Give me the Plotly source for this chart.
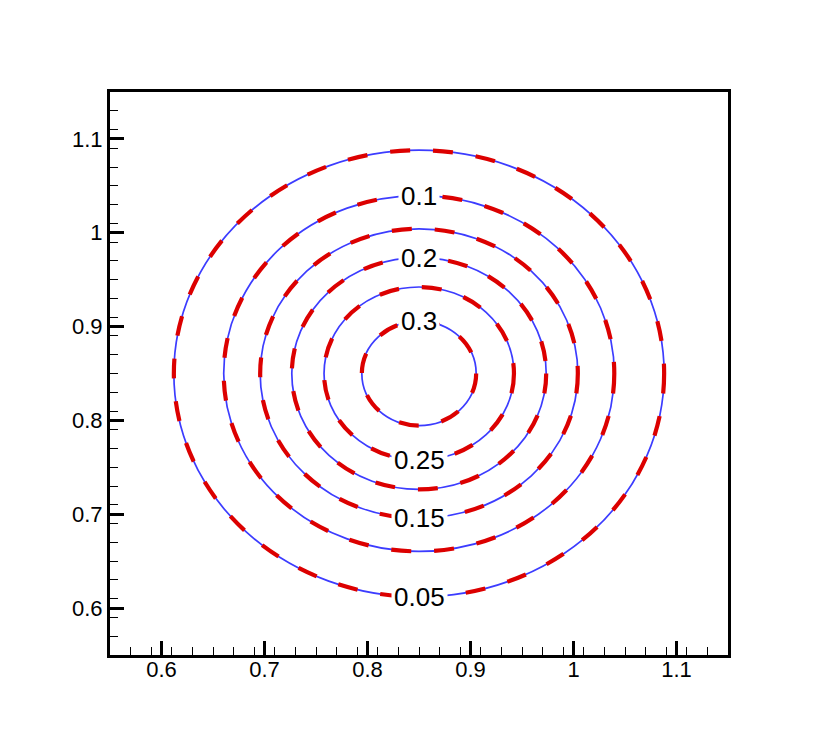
import plotly.graph_objects as go

# Contour levels and the radii of the (circular) contour lines
levels = [0.05, 0.1, 0.15, 0.2, 0.25, 0.3]
radii = [0.238, 0.1896, 0.1542, 0.1235, 0.0922, 0.0555]
center_x = 0.85
center_y = 0.85
# where each label sits on its contour: +1 = top, -1 = bottom
label_side = [-1, 1, -1, 1, -1, 1]
label_text = ["0.05", "0.1", "0.15", "0.2", "0.25", "0.3"]

x_range = [0.55, 1.15]
y_range = [0.55, 1.15]
tick_vals = [0.6, 0.7, 0.8, 0.9, 1.0, 1.1]
tick_text = ["0.6", "0.7", "0.8", "0.9", "1", "1.1"]

BLUE = "rgb(60,60,255)"
RED = "rgb(220,0,0)"
FONT = "Liberation Sans, Arial, Helvetica, sans-serif"

fig = go.Figure()
fig.add_trace(go.Scatter(x=[], y=[], mode="lines", showlegend=False))

shapes = []
for r in radii:
    shapes.append(dict(type="circle", xref="x", yref="y",
                       x0=center_x - r, x1=center_x + r,
                       y0=center_y - r, y1=center_y + r,
                       line=dict(color=BLUE, width=1.7), layer="above"))
for r in radii:
    shapes.append(dict(type="circle", xref="x", yref="y",
                       x0=center_x - r, x1=center_x + r,
                       y0=center_y - r, y1=center_y + r,
                       line=dict(color=RED, width=4.2, dash="20px,23px"), layer="above"))

annotations = []
for txt, r, s in zip(label_text, radii, label_side):
    annotations.append(dict(x=center_x, y=center_y + s * r, xref="x", yref="y",
                            text=txt, showarrow=False, bgcolor="white",
                            borderpad=2, font=dict(family=FONT, size=26, color="black"),
                            xanchor="center", yanchor="middle"))

axis_common = dict(
    showgrid=False, zeroline=False,
    showline=True, linecolor="black", linewidth=3, mirror=True,
    ticks="inside", ticklen=14, tickwidth=3, tickcolor="black",
    tickvals=tick_vals, ticktext=tick_text,
    tickfont=dict(family=FONT, size=22, color="black"),
    minor=dict(ticks="inside", ticklen=8, tickwidth=1, tickcolor="black", dtick=0.02, tick0=0.55),
)

fig.update_layout(
    width=830, height=739,
    margin=dict(l=102, r=110, t=84, b=92),
    paper_bgcolor="white", plot_bgcolor="white",
    shapes=shapes, annotations=annotations,
    xaxis=dict(range=x_range, ticklabelstandoff=-7, **axis_common),
    yaxis=dict(range=y_range, **axis_common),
    showlegend=False,
)

fig.write_html("out.html")
